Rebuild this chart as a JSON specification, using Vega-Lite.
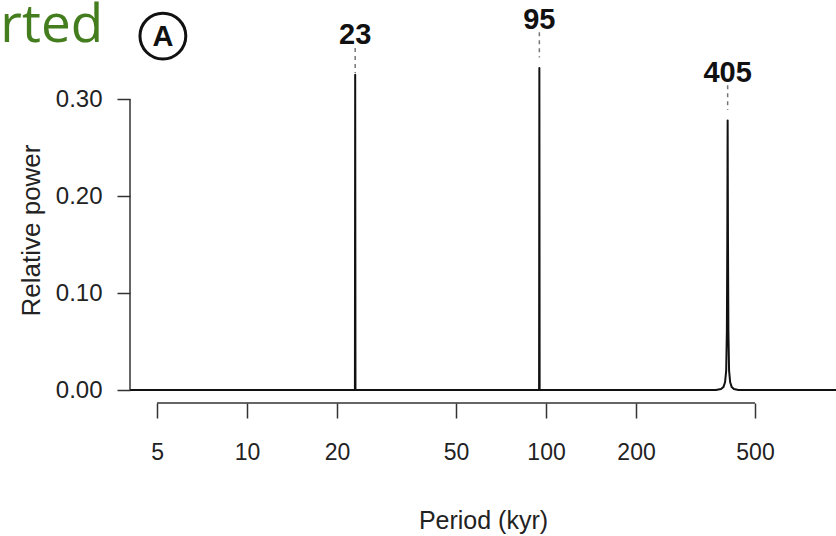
{
  "$schema": "https://vega.github.io/schema/vega-lite/v6.json",
  "autosize": "none",
  "width": 706,
  "height": 320,
  "padding": {"left": 130, "top": 70, "right": 0, "bottom": 146},
  "background": "white",
  "config": {
    "view": {"stroke": null},
    "font": "Liberation Sans",
    "axis": {"labelFont": "Liberation Sans", "titleFont": "Liberation Sans", "labelColor": "#222", "titleColor": "#222", "tickColor": "#333", "tickWidth": 1.5, "grid": false, "domain": false}
  },
  "datasets": {
    "spec": [
      {"period": 4.06, "power": 0},
      {"period": 22.95, "power": 0},
      {"period": 23, "power": 0.325},
      {"period": 23.05, "power": 0},
      {"period": 94.8, "power": 0},
      {"period": 95, "power": 0.332},
      {"period": 95.2, "power": 0},
      {"period": 370, "power": 0},
      {"period": 385, "power": 0.001},
      {"period": 392, "power": 0.003},
      {"period": 397, "power": 0.008},
      {"period": 400.5, "power": 0.02},
      {"period": 402.6, "power": 0.06},
      {"period": 403.9, "power": 0.15},
      {"period": 405, "power": 0.278},
      {"period": 406.1, "power": 0.15},
      {"period": 407.4, "power": 0.06},
      {"period": 409.5, "power": 0.02},
      {"period": 413, "power": 0.008},
      {"period": 418, "power": 0.003},
      {"period": 425, "power": 0.001},
      {"period": 440, "power": 0},
      {"period": 933, "power": 0}
    ],
    "peaks": [
      {"label": "23", "period": 23, "labelY": 0.3567, "dashTop": 0.3526, "dashBottom": 0.3268},
      {"label": "95", "period": 95, "labelY": 0.3719, "dashTop": 0.369, "dashBottom": 0.343},
      {"label": "405", "period": 405, "labelY": 0.3178, "dashTop": 0.3144, "dashBottom": 0.2887}
    ],
    "xaxisline": [{"x1": 5, "x2": 500, "y": -0.0134}],
    "yaxisline": [{"x": 4.06, "y1": 0, "y2": 0.3}],
    "panel": [{"x": 5.23, "y": 0.365, "label": "A"}],
    "clip": [{"x": 3.3, "y": 0.359, "label": "rted"}]
  },
  "layer": [
    {
      "data": {"name": "spec"},
      "mark": {"type": "line", "color": "#111", "strokeWidth": 2, "clip": false, "interpolate": "linear", "strokeJoin": "round"},
      "encoding": {
        "x": {"field": "period", "type": "quantitative",
          "scale": {"type": "log", "domain": [4.06, 933], "nice": false},
          "axis": {"title": "Period (kyr)", "values": [5, 10, 20, 50, 100, 200, 500], "format": "d", "offset": 13, "tickSize": 15, "labelFontSize": 23, "labelPadding": 23, "titleFontSize": 25, "titleFontWeight": "normal", "titlePadding": 44, "labelFlush": false}},
        "y": {"field": "power", "type": "quantitative",
          "scale": {"domain": [0, 0.33], "nice": false, "zero": false},
          "axis": {"title": "Relative power", "values": [0, 0.1, 0.2, 0.3], "format": ".2f", "tickSize": 13, "labelFontSize": 24, "labelPadding": 15, "titleFontSize": 26, "titleFontWeight": "normal", "titlePadding": 11, "labelFlush": false}}
      }
    },
    {
      "data": {"name": "xaxisline"},
      "mark": {"type": "rule", "color": "#333", "strokeWidth": 1.5, "clip": false},
      "encoding": {
        "x": {"field": "x1", "type": "quantitative"},
        "x2": {"field": "x2"},
        "y": {"field": "y", "type": "quantitative"}
      }
    },
    {
      "data": {"name": "yaxisline"},
      "mark": {"type": "rule", "color": "#333", "strokeWidth": 1.5, "clip": false},
      "encoding": {
        "x": {"field": "x", "type": "quantitative"},
        "y": {"field": "y1", "type": "quantitative"},
        "y2": {"field": "y2"}
      }
    },
    {
      "data": {"name": "peaks"},
      "mark": {"type": "rule", "color": "#777", "strokeWidth": 1.5, "strokeDash": [4, 4], "clip": false},
      "encoding": {
        "x": {"field": "period", "type": "quantitative"},
        "y": {"field": "dashTop", "type": "quantitative"},
        "y2": {"field": "dashBottom"}
      }
    },
    {
      "data": {"name": "peaks"},
      "mark": {"type": "text", "fontSize": 29, "fontWeight": "bold", "color": "#111", "align": "center", "baseline": "alphabetic", "font": "Liberation Sans"},
      "encoding": {
        "x": {"field": "period", "type": "quantitative"},
        "y": {"field": "labelY", "type": "quantitative"},
        "text": {"field": "label"}
      }
    },
    {
      "data": {"name": "panel"},
      "mark": {"type": "point", "shape": "circle", "size": 2100, "filled": false, "stroke": "#111", "strokeWidth": 3, "opacity": 1},
      "encoding": {
        "x": {"field": "x", "type": "quantitative"},
        "y": {"field": "y", "type": "quantitative"}
      }
    },
    {
      "data": {"name": "panel"},
      "mark": {"type": "text", "fontSize": 29, "fontWeight": "bold", "color": "#111", "align": "center", "baseline": "middle", "font": "Liberation Sans", "dy": 1},
      "encoding": {
        "x": {"field": "x", "type": "quantitative"},
        "y": {"field": "y", "type": "quantitative"},
        "text": {"field": "label"}
      }
    },
    {
      "data": {"name": "clip"},
      "mark": {"type": "text", "fontSize": 53, "color": "#437d1d", "align": "right", "baseline": "alphabetic", "font": "Open Sans"},
      "encoding": {
        "x": {"field": "x", "type": "quantitative"},
        "y": {"field": "y", "type": "quantitative"},
        "text": {"field": "label"}
      }
    }
  ]
}
